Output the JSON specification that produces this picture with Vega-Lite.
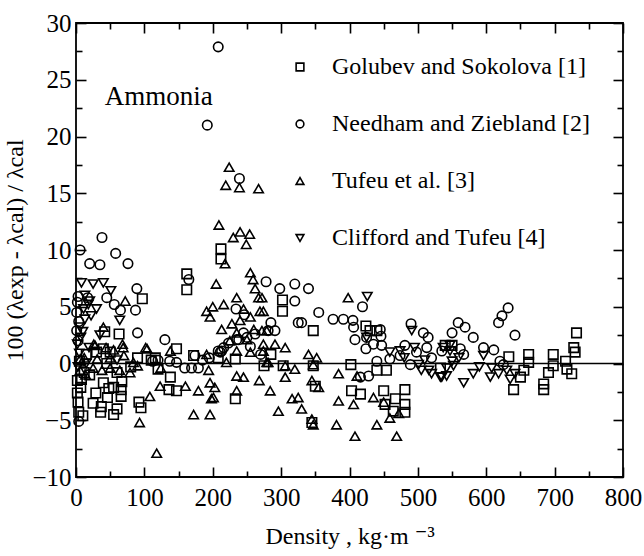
{
  "$schema": "https://vega.github.io/schema/vega-lite/v6.json",
  "autosize": {"type": "none"},
  "padding": {"left": 76, "top": 23, "right": 21, "bottom": 79},
  "width": 547,
  "height": 454,
  "background": "white",
  "config": {
    "font": "Liberation Serif, Times New Roman, DejaVu Serif, serif",
    "view": {"stroke": "black", "strokeWidth": 1.8},
    "axis": {"domain": false, "grid": false, "labelFont": "Liberation Serif, Times New Roman, DejaVu Serif, serif", "titleFont": "Liberation Serif, Times New Roman, DejaVu Serif, serif", "labelColor": "black", "titleColor": "black", "tickColor": "black", "tickWidth": 1.6, "labelFontSize": 25, "titleFontSize": 24, "titleFontWeight": "normal"}
  },
  "resolve": {"axis": {"x": "independent", "y": "independent"}},
  "layer": [
    {
      "data": {"values": [
        {"s":"G","x":3,"y":-3.4},{"s":"G","x":7,"y":-2.1},{"s":"G","x":4,"y":-4.3},{"s":"G","x":8,"y":-1.4},{"s":"G","x":12,"y":-0.8},{"s":"G","x":29,"y":-2.6},{"s":"G","x":36,"y":-4.3},{"s":"G","x":37,"y":-3.8},{"s":"G","x":40,"y":-1.7},{"s":"G","x":46,"y":-3.0},{"s":"G","x":48,"y":-2.2},{"s":"G","x":55,"y":-4.5},{"s":"G","x":55,"y":-2.1},{"s":"G","x":66,"y":-2.3},{"s":"G","x":66,"y":-2.9},{"s":"G","x":67,"y":-1.6},{"s":"G","x":92,"y":-3.4},{"s":"G","x":95,"y":-3.9},{"s":"G","x":40,"y":1.3},{"s":"G","x":42,"y":2.8},{"s":"G","x":63,"y":2.6},{"s":"G","x":97,"y":5.7},{"s":"G","x":116,"y":0.5},{"s":"G","x":136,"y":-2.3},{"s":"G","x":138,"y":-1.2},{"s":"G","x":147,"y":1.3},{"s":"G","x":147,"y":-2.4},{"s":"G","x":172,"y":0.7},{"s":"G","x":208,"y":0.5},{"s":"G","x":212,"y":10.1},{"s":"G","x":212,"y":9.2},{"s":"G","x":233,"y":0.4},{"s":"G","x":233,"y":-3.1},{"s":"G","x":162,"y":7.9},{"s":"G","x":162,"y":6.5},{"s":"G","x":302,"y":5.6},{"s":"G","x":302,"y":4.6},{"s":"G","x":347,"y":2.9},{"s":"G","x":347,"y":-0.2},{"s":"G","x":345,"y":-5.2},{"s":"G","x":350,"y":-2.0},{"s":"G","x":402,"y":-0.1},{"s":"G","x":403,"y":-2.4},{"s":"G","x":416,"y":-2.7},{"s":"G","x":424,"y":3.3},{"s":"G","x":430,"y":2.9},{"s":"G","x":440,"y":2.9},{"s":"G","x":440,"y":-0.6},{"s":"G","x":454,"y":-0.6},{"s":"G","x":450,"y":-2.4},{"s":"G","x":452,"y":-3.6},{"s":"G","x":467,"y":-3.1},{"s":"G","x":464,"y":-4.2},{"s":"G","x":481,"y":-2.3},{"s":"G","x":481,"y":-3.6},{"s":"G","x":481,"y":-4.3},{"s":"G","x":540,"y":1.6},{"s":"G","x":550,"y":1.6},{"s":"G","x":533,"y":-0.4},{"s":"G","x":633,"y":0.6},{"s":"G","x":662,"y":0.8},{"s":"G","x":662,"y":0.1},{"s":"G","x":655,"y":-0.6},{"s":"G","x":650,"y":-1.2},{"s":"G","x":640,"y":-2.3},{"s":"G","x":698,"y":0.8},{"s":"G","x":698,"y":-0.2},{"s":"G","x":691,"y":-0.8},{"s":"G","x":684,"y":-1.8},{"s":"G","x":684,"y":-2.3},{"s":"G","x":716,"y":0.2},{"s":"G","x":718,"y":-0.5},{"s":"G","x":725,"y":-0.9},{"s":"G","x":728,"y":1.4},{"s":"G","x":730,"y":1.0},{"s":"G","x":732,"y":2.7},{"s":"G","x":15,"y":0.8},{"s":"G","x":30,"y":1.0},{"s":"G","x":45,"y":0.0},{"s":"G","x":20,"y":-1.0},{"s":"G","x":2,"y":-1.5},{"s":"G","x":5,"y":0.2},{"s":"G","x":60,"y":-0.8},{"s":"G","x":80,"y":-0.3},{"s":"G","x":90,"y":0.5},{"s":"G","x":25,"y":-3.5},{"s":"G","x":10,"y":-4.6},{"s":"G","x":60,"y":-4.0},{"s":"G","x":2,"y":-2.6},{"s":"G","x":50,"y":1.0},{"s":"G","x":110,"y":0.3},{"s":"G","x":275,"y":-0.2},{"s":"G","x":285,"y":0.8},{"s":"G","x":303,"y":-0.2},{"s":"G","x":120,"y":-0.5},
        {"s":"N","x":6,"y":10.0},{"s":"N","x":38,"y":11.1},{"s":"N","x":58,"y":9.7},{"s":"N","x":20,"y":8.8},{"s":"N","x":35,"y":8.7},{"s":"N","x":76,"y":8.8},{"s":"N","x":89,"y":6.6},{"s":"N","x":3,"y":5.9},{"s":"N","x":17,"y":5.8},{"s":"N","x":45,"y":5.8},{"s":"N","x":56,"y":5.2},{"s":"N","x":65,"y":4.7},{"s":"N","x":87,"y":4.7},{"s":"N","x":2,"y":5.4},{"s":"N","x":1,"y":4.5},{"s":"N","x":4,"y":3.7},{"s":"N","x":1,"y":2.9},{"s":"N","x":3,"y":2.0},{"s":"N","x":90,"y":2.7},{"s":"N","x":130,"y":2.1},{"s":"N","x":112,"y":0.2},{"s":"N","x":4,"y":-5.1},{"s":"N","x":147,"y":0.1},{"s":"N","x":159,"y":-0.4},{"s":"N","x":169,"y":-0.4},{"s":"N","x":179,"y":-0.4},{"s":"N","x":174,"y":0.7},{"s":"N","x":165,"y":7.4},{"s":"N","x":192,"y":21.0},{"s":"N","x":208,"y":27.9},{"s":"N","x":239,"y":16.3},{"s":"N","x":213,"y":1.1},{"s":"N","x":208,"y":1.1},{"s":"N","x":211,"y":1.0},{"s":"N","x":216,"y":1.4},{"s":"N","x":223,"y":1.8},{"s":"N","x":235,"y":2.1},{"s":"N","x":250,"y":2.3},{"s":"N","x":262,"y":2.6},{"s":"N","x":281,"y":2.9},{"s":"N","x":238,"y":2.1},{"s":"N","x":245,"y":2.7},{"s":"N","x":234,"y":4.8},{"s":"N","x":246,"y":4.3},{"s":"N","x":278,"y":7.2},{"s":"N","x":298,"y":6.6},{"s":"N","x":320,"y":7.0},{"s":"N","x":340,"y":6.6},{"s":"N","x":320,"y":5.5},{"s":"N","x":355,"y":4.5},{"s":"N","x":419,"y":5.0},{"s":"N","x":325,"y":3.6},{"s":"N","x":330,"y":3.6},{"s":"N","x":376,"y":3.9},{"s":"N","x":391,"y":3.9},{"s":"N","x":405,"y":3.8},{"s":"N","x":406,"y":3.2},{"s":"N","x":285,"y":3.6},{"s":"N","x":291,"y":2.9},{"s":"N","x":445,"y":3.0},{"s":"N","x":446,"y":2.4},{"s":"N","x":425,"y":2.3},{"s":"N","x":408,"y":2.1},{"s":"N","x":435,"y":1.7},{"s":"N","x":424,"y":1.3},{"s":"N","x":447,"y":1.6},{"s":"N","x":440,"y":0.2},{"s":"N","x":459,"y":0.4},{"s":"N","x":474,"y":0.7},{"s":"N","x":428,"y":-1.1},{"s":"N","x":416,"y":-1.2},{"s":"N","x":490,"y":3.5},{"s":"N","x":508,"y":2.7},{"s":"N","x":515,"y":2.3},{"s":"N","x":513,"y":1.4},{"s":"N","x":520,"y":0.5},{"s":"N","x":535,"y":1.1},{"s":"N","x":550,"y":2.7},{"s":"N","x":481,"y":1.6},{"s":"N","x":498,"y":1.0},{"s":"N","x":489,"y":-0.1},{"s":"N","x":559,"y":3.6},{"s":"N","x":569,"y":3.2},{"s":"N","x":581,"y":2.3},{"s":"N","x":596,"y":1.4},{"s":"N","x":611,"y":1.2},{"s":"N","x":618,"y":3.6},{"s":"N","x":623,"y":4.2},{"s":"N","x":632,"y":4.9},{"s":"N","x":642,"y":2.5},{"s":"N","x":562,"y":1.3},{"s":"N","x":567,"y":0.8},{"s":"N","x":620,"y":0.2},{"s":"N","x":625,"y":-0.1},{"s":"N","x":255,"y":1.5},{"s":"N","x":270,"y":0.8},{"s":"N","x":185,"y":0.3},{"s":"N","x":195,"y":0.5},{"s":"N","x":120,"y":0.3},{"s":"N","x":137,"y":0.2},
        {"s":"T","x":224,"y":17.3},{"s":"T","x":219,"y":15.7},{"s":"T","x":239,"y":15.5},{"s":"T","x":267,"y":15.4},{"s":"T","x":209,"y":12.2},{"s":"T","x":230,"y":11.1},{"s":"T","x":240,"y":11.6},{"s":"T","x":254,"y":11.4},{"s":"T","x":249,"y":10.5},{"s":"T","x":218,"y":8.8},{"s":"T","x":205,"y":7.0},{"s":"T","x":255,"y":8.0},{"s":"T","x":259,"y":7.4},{"s":"T","x":262,"y":6.6},{"s":"T","x":267,"y":5.8},{"s":"T","x":191,"y":4.6},{"s":"T","x":196,"y":4.1},{"s":"T","x":216,"y":5.2},{"s":"T","x":235,"y":5.8},{"s":"T","x":245,"y":4.8},{"s":"T","x":255,"y":4.1},{"s":"T","x":269,"y":4.6},{"s":"T","x":213,"y":3.0},{"s":"T","x":235,"y":2.7},{"s":"T","x":250,"y":2.1},{"s":"T","x":260,"y":3.0},{"s":"T","x":272,"y":2.9},{"s":"T","x":274,"y":1.7},{"s":"T","x":104,"y":1.3},{"s":"T","x":138,"y":1.1},{"s":"T","x":69,"y":1.4},{"s":"T","x":50,"y":0.5},{"s":"T","x":28,"y":1.6},{"s":"T","x":6,"y":0.4},{"s":"T","x":191,"y":0.8},{"s":"T","x":220,"y":0.1},{"s":"T","x":279,"y":0.1},{"s":"T","x":235,"y":1.1},{"s":"T","x":84,"y":0.1},{"s":"T","x":6,"y":-0.6},{"s":"T","x":25,"y":-0.4},{"s":"T","x":50,"y":-0.4},{"s":"T","x":64,"y":-0.6},{"s":"T","x":79,"y":-0.8},{"s":"T","x":38,"y":-0.6},{"s":"T","x":194,"y":-0.6},{"s":"T","x":235,"y":-1.1},{"s":"T","x":245,"y":-1.2},{"s":"T","x":203,"y":-2.1},{"s":"T","x":235,"y":-2.4},{"s":"T","x":268,"y":-1.5},{"s":"T","x":201,"y":-3.0},{"s":"T","x":160,"y":-2.0},{"s":"T","x":179,"y":-2.4},{"s":"T","x":123,"y":-2.0},{"s":"T","x":108,"y":-2.9},{"s":"T","x":172,"y":-4.5},{"s":"T","x":196,"y":-4.5},{"s":"T","x":93,"y":-5.2},{"s":"T","x":118,"y":-7.9},{"s":"T","x":72,"y":5.5},{"s":"T","x":40,"y":3.2},{"s":"T","x":26,"y":1.7},{"s":"T","x":44,"y":1.4},{"s":"T","x":68,"y":1.7},{"s":"T","x":102,"y":1.4},{"s":"T","x":31,"y":0.4},{"s":"T","x":70,"y":0.7},{"s":"T","x":12,"y":0.5},{"s":"T","x":124,"y":-0.4},{"s":"T","x":272,"y":5.8},{"s":"T","x":274,"y":4.6},{"s":"T","x":279,"y":2.9},{"s":"T","x":291,"y":1.7},{"s":"T","x":306,"y":1.4},{"s":"T","x":274,"y":1.1},{"s":"T","x":281,"y":0.1},{"s":"T","x":398,"y":5.8},{"s":"T","x":340,"y":0.8},{"s":"T","x":352,"y":0.5},{"s":"T","x":347,"y":-0.1},{"s":"T","x":306,"y":-0.2},{"s":"T","x":320,"y":-0.5},{"s":"T","x":384,"y":-0.9},{"s":"T","x":411,"y":-1.1},{"s":"T","x":306,"y":-1.2},{"s":"T","x":345,"y":-1.5},{"s":"T","x":355,"y":-2.1},{"s":"T","x":284,"y":-2.4},{"s":"T","x":296,"y":-4.2},{"s":"T","x":316,"y":-3.1},{"s":"T","x":325,"y":-3.0},{"s":"T","x":330,"y":-4.0},{"s":"T","x":345,"y":-4.9},{"s":"T","x":347,"y":-5.4},{"s":"T","x":384,"y":-3.3},{"s":"T","x":406,"y":-3.6},{"s":"T","x":435,"y":-3.0},{"s":"T","x":450,"y":-3.4},{"s":"T","x":459,"y":-4.8},{"s":"T","x":472,"y":-4.4},{"s":"T","x":381,"y":-5.4},{"s":"T","x":440,"y":-5.4},{"s":"T","x":408,"y":-6.4},{"s":"T","x":469,"y":-6.4},{"s":"T","x":228,"y":3.5},{"s":"T","x":240,"y":3.8},{"s":"T","x":225,"y":2.0},{"s":"T","x":255,"y":1.0},{"s":"T","x":200,"y":5.0},{"s":"T","x":196,"y":-1.7},{"s":"T","x":198,"y":-3.1},{"s":"T","x":14,"y":-1.0},{"s":"T","x":55,"y":1.2},{"s":"T","x":90,"y":-0.2},
        {"s":"C","x":8,"y":7.1},{"s":"C","x":25,"y":7.0},{"s":"C","x":40,"y":7.1},{"s":"C","x":51,"y":6.4},{"s":"C","x":13,"y":6.0},{"s":"C","x":20,"y":5.5},{"s":"C","x":11,"y":4.8},{"s":"C","x":30,"y":4.8},{"s":"C","x":13,"y":3.9},{"s":"C","x":64,"y":3.8},{"s":"C","x":6,"y":3.2},{"s":"C","x":7,"y":2.3},{"s":"C","x":19,"y":1.4},{"s":"C","x":2,"y":1.7},{"s":"C","x":5,"y":0.9},{"s":"C","x":3,"y":-0.3},{"s":"C","x":10,"y":2.8},{"s":"C","x":18,"y":5.2},{"s":"C","x":22,"y":4.2},{"s":"C","x":426,"y":5.9},{"s":"C","x":425,"y":2.3},{"s":"C","x":459,"y":1.0},{"s":"C","x":474,"y":1.1},{"s":"C","x":491,"y":2.9},{"s":"C","x":495,"y":1.4},{"s":"C","x":501,"y":-0.1},{"s":"C","x":516,"y":-0.6},{"s":"C","x":533,"y":-1.2},{"s":"C","x":542,"y":-1.1},{"s":"C","x":547,"y":1.1},{"s":"C","x":550,"y":0.2},{"s":"C","x":537,"y":1.4},{"s":"C","x":547,"y":1.6},{"s":"C","x":542,"y":-0.4},{"s":"C","x":552,"y":-0.2},{"s":"C","x":567,"y":-1.7},{"s":"C","x":581,"y":-0.9},{"s":"C","x":596,"y":0.7},{"s":"C","x":606,"y":-1.2},{"s":"C","x":608,"y":-0.4},{"s":"C","x":618,"y":-0.9},{"s":"C","x":635,"y":-1.4},{"s":"C","x":642,"y":-0.9},{"s":"C","x":630,"y":-0.6},{"s":"C","x":535,"y":-1.2},{"s":"C","x":480,"y":0.5},{"s":"C","x":510,"y":0.3},{"s":"C","x":520,"y":-0.9},{"s":"C","x":560,"y":0.5},{"s":"C","x":590,"y":-0.3},{"s":"C","x":505,"y":-0.6},{"s":"C","x":15,"y":0.0},{"s":"C","x":35,"y":2.5},{"s":"C","x":60,"y":0.3}
      ]},
      "mark": {"type": "point", "filled": false, "stroke": "black", "strokeWidth": 1.6, "size": 90, "opacity": 1},
      "encoding": {
        "x": {"field": "x", "type": "quantitative", "scale": {"domain": [0, 800], "nice": false, "zero": false},
          "axis": {"orient": "bottom", "values": [0,50,100,150,200,250,300,350,400,450,500,550,600,650,700,750,800],
            "tickSize": {"condition": {"test": "datum.value % 100 === 0", "value": -10}, "value": -6},
            "labelExpr": "datum.value % 100 === 0 ? datum.label : ''", "labelPadding": 18, "labelFlush": false, "labelOverlap": false,
            "title": "Density , kg·m ⁻³", "titlePadding": 10}},
        "y": {"field": "y", "type": "quantitative", "scale": {"domain": [-10, 30], "nice": false, "zero": false},
          "axis": {"orient": "left", "values": [-10,-7.5,-5,-2.5,0,2.5,5,7.5,10,12.5,15,17.5,20,22.5,25,27.5,30],
            "tickSize": {"condition": {"test": "datum.value % 5 === 0", "value": -10}, "value": -6},
            "labelExpr": "datum.value % 5 === 0 ? datum.label : ''", "labelPadding": 15, "labelFlush": false, "labelOverlap": false,
            "title": "100 (λexp - λcal) / λcal", "titlePadding": 4}},
        "shape": {"field": "s", "type": "nominal",
          "scale": {"domain": ["G", "N", "T", "C"], "range": ["square", "circle", "triangle-up", "triangle-down"]},
          "legend": {"orient": "none", "legendX": 212, "legendY": 32, "title": null,
            "labelExpr": "datum.label == 'G' ? 'Golubev and Sokolova [1]' : datum.label == 'N' ? 'Needham and Ziebland [2]' : datum.label == 'T' ? 'Tufeu et al. [3]' : 'Clifford and Tufeu [4]'",
            "labelFont": "Liberation Serif, Times New Roman, DejaVu Serif, serif", "labelFontSize": 24, "labelColor": "black", "labelOffset": 20,
            "symbolSize": 60, "symbolStrokeWidth": 1.6, "symbolStrokeColor": "black", "rowPadding": 33, "labelLimit": 400}}
      }
    },
    {
      "data": {"values": [{"x": 0, "x2": 800, "y": 0}]},
      "mark": {"type": "rule", "stroke": "black", "strokeWidth": 1.5},
      "encoding": {
        "x": {"field": "x", "type": "quantitative",
          "axis": {"orient": "top", "values": [0,50,100,150,200,250,300,350,400,450,500,550,600,650,700,750,800],
            "tickSize": {"condition": {"test": "datum.value % 100 === 0", "value": -10}, "value": -6},
            "labels": false, "title": null}},
        "x2": {"field": "x2"},
        "y": {"field": "y", "type": "quantitative",
          "axis": {"orient": "right", "values": [-10,-7.5,-5,-2.5,0,2.5,5,7.5,10,12.5,15,17.5,20,22.5,25,27.5,30],
            "tickSize": {"condition": {"test": "datum.value % 5 === 0", "value": -10}, "value": -6},
            "labels": false, "title": null}}
      }
    },
    {
      "data": {"values": [{"x": 42, "y": 23.5, "t": "Ammonia"}]},
      "mark": {"type": "text", "align": "left", "baseline": "middle", "font": "Liberation Serif, Times New Roman, DejaVu Serif, serif", "fontSize": 27, "color": "black"},
      "encoding": {
        "x": {"field": "x", "type": "quantitative", "axis": null},
        "y": {"field": "y", "type": "quantitative", "axis": null},
        "text": {"field": "t"}
      }
    }
  ]
}
